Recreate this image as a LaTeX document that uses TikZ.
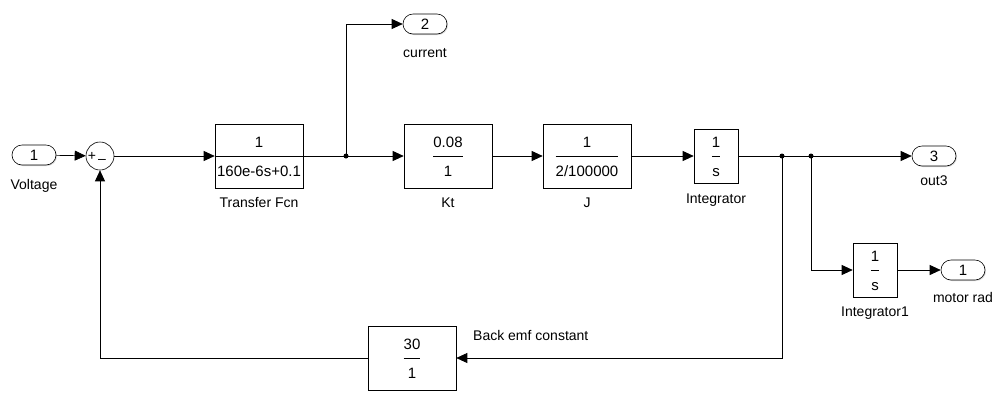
\documentclass[tikz,border=0pt]{standalone}
\usepackage{fontspec}
\setmainfont{Liberation Sans}
\usetikzlibrary{positioning}
\usetikzlibrary{arrows.meta}
\usetikzlibrary{shadows}
% numerator over denominator, as written inside a block
\newcommand{\blkfrac}[2]{%
\begin{tabular}{@{}c@{}}\rule[-8pt]{0pt}{25pt}#1\\\hline\rule{0pt}{20pt}#2\end{tabular}}
\tikzset{
every node/.style={font=\fontsize{14}{17}\selectfont},
blk/.style={ % gain and transfer function blocks
draw, fill=white, semithick, font=\fontsize{15}{18}\selectfont,
inner sep=1pt, minimum width=88pt, minimum height=64pt,
drop shadow={shadow xshift=1.4pt, shadow yshift=-1.4pt, fill=black!30}},
intblk/.style={blk, minimum width=44pt, minimum height=54pt},
port/.style={ % in and out ports
draw, fill=white, semithick, rounded corners=10pt,
minimum width=44pt, minimum height=20pt, inner sep=0pt,
font=\fontsize{15}{18}\selectfont,
drop shadow={shadow xshift=1pt, shadow yshift=-1pt, fill=black!30}},
sumblk/.style={circle, draw, fill=white, semithick, minimum size=28pt, inner sep=0pt},
dot/.style={circle, fill, inner sep=0pt, minimum size=5pt},
blklabel/.style={inner sep=0pt, text height=10pt, text depth=3pt},
wire/.style={draw, line width=0.7pt, -{Triangle[length=11pt, width=10pt]}}}
\begin{document}
\begin{tikzpicture}[x=1pt, y=-1pt]
\useasboundingbox (0,0) rectangle (994,392);
\node[port] (in1) at (34,155) {1};
\node[sumblk] (sum) at (100,156) {};
\node[font=\fontsize{14}{14}\selectfont] (sumplus) at (92,156) {+};
\node[font=\fontsize{14}{14}\selectfont] (summinus) at (102,161) {--};
\node[blk] (tf) at (259,156) {\blkfrac{1}{160e-6s+0.1}};
\node[dot] (br1) at (346,156) {};
\node[port] (out2) at (425,24) {2};
\node[blk] (kt) at (448,156) {\blkfrac{0.08}{1}};
\node[blk] (jblk) at (587,156) {\blkfrac{1}{2/100000}};
\node[intblk] (integ) at (716,156) {\blkfrac{1}{s}};
\node[dot] (br2) at (782,156) {};
\node[dot] (br3) at (811,156) {};
\node[port] (out3) at (934,156) {3};
\node[intblk] (integ1) at (875,270) {\blkfrac{1}{s}};
\node[port] (out1) at (963,270) {1};
\node[blk] (bemf) at (412,358) {\blkfrac{30}{1}};
% block names
\node[blklabel, below=14pt of in1] (lvoltage) {Voltage};
\node[blklabel, below=13pt of out2] (lcurrent) {current};
\node[blklabel, below=9pt of tf] (ltf) {Transfer Fcn};
\node[blklabel, below=9pt of kt] (lkt) {Kt};
\node[blklabel, below=9pt of jblk] (ljblk) {J};
\node[blklabel, below=10pt of integ] (linteg) {Integrator};
\node[blklabel, below=8.5pt of out3] (lout3) {out3};
\node[blklabel, below=9pt of integ1] (linteg1) {Integrator1};
\node[blklabel, below=12pt of out1] (lout1) {motor rad};
\node[blklabel, anchor=base west] (lbemf) at (473,340) {Back emf constant};
% signal lines
\draw[semithick] (tf.west) -- (tf.east);
\draw[wire] (in1) -- (sum);
\draw[wire] (sum) -- (tf);
\draw[wire] (tf) -- (kt);
\draw[wire] (br1.center) |- (out2.west);
\draw[wire] (kt) -- (jblk);
\draw[wire] (jblk) -- (integ);
\draw[wire] (integ) -- (out3);
\draw[wire] (br3.center) |- (integ1.west);
\draw[wire] (integ1) -- (out1);
\draw[wire] (br2.center) |- (bemf.east);
\draw[wire] (bemf.west) -| (sum.south);
\end{tikzpicture}
\end{document}
